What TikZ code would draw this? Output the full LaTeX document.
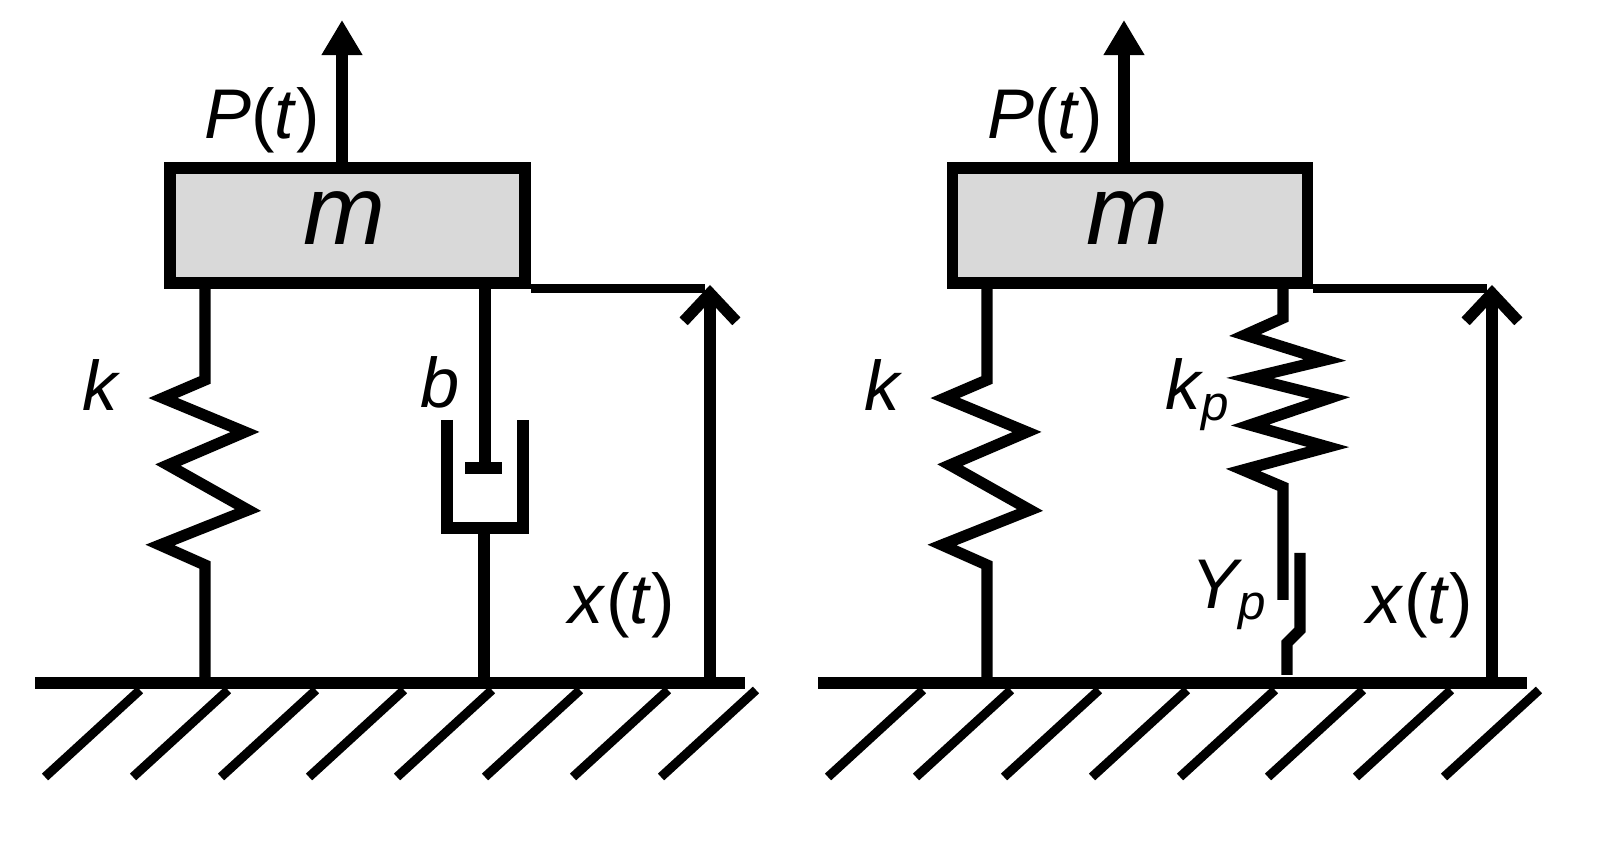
\documentclass[tikz,border=0pt]{standalone}
\usepackage{fontspec}
\setmainfont{Liberation Sans}
\usetikzlibrary{arrows.meta}
\definecolor{massgray}{RGB}{217,217,217}
\newcommand{\fl}[1]{#1\textup{(}t\textup{)}}
\tikzset{
    % Mass block style
    mass/.style={draw=black, line width=3.2pt, fill=massgray, inner sep=0pt,
        minimum width=3.55cm, minimum height=1.15cm},
    % Element wires
    wire/.style={line width=3.2pt, line join=miter},
    % Ground hatching
    hatch/.style={line width=2.6pt},
    % Applied load arrow
    loadarrow/.style={line width=3.2pt, -{Triangle[length=10pt,width=11pt]}},
    % Displacement arrow
    disparrow/.style={line width=3.2pt, -{Straight Barb[length=8pt,width=15pt,line width=3.2pt]}},
    % Label style
    lbl/.style={font=\fontsize{20}{24}\selectfont\itshape, inner sep=0pt}
}
\begin{document}
\begin{tikzpicture}[x=0.01cm, y=-0.01cm]
\useasboundingbox (0,0) rectangle (1617,843);

% ---- left system: spring and dashpot ----
\node[mass] (massL) at (347.5,225.5) {};
\node[lbl, font=\fontsize{28}{32}\selectfont\itshape] (mL) at (345,218) {m};
\coordinate (loadL) at (342,20);
\draw[loadarrow] (massL.north -| loadL) -- (loadL);
\node[lbl] (PL) at (262,120) {\fl{P}};

\draw[wire] (205,283) -- (205,380) -- (163,398) -- (245,432) -- (168,465) -- (248,510) -- (160,545) -- (205,565) -- (205,683);
\node[lbl] (kL) at (100,385) {k};

\draw[wire] (485,283) -- (485,468);
\draw[wire] (465,468) -- (502,468);
\draw[wire] (447,420) -- (447,528) -- (523,528) -- (523,420);
\draw[wire] (484,528) -- (484,683);
\node[lbl] (bL) at (440,382) {b};

\coordinate (xtopL) at (710,285);
\draw[line width=2.4pt] (massL.south east) -- (massL.south east -| 705,0);
\draw[disparrow] (710,683) -- (xtopL);
\node[lbl] (xL) at (622,605) {\fl{x}};

\draw[wire] (35,683) -- (745,683);
\foreach \i in {0,...,7}
    \draw[hatch] (45+88*\i,777) -- (140+88*\i,690);

% ---- right system: spring and elasto-plastic element ----
\node[mass] (massR) at (1130,225.5) {};
\node[lbl, font=\fontsize{28}{32}\selectfont\itshape] (mR) at (1128,218) {m};
\coordinate (loadR) at (1124,20);
\draw[loadarrow] (massR.north -| loadR) -- (loadR);
\node[lbl] (PR) at (1045,120) {\fl{P}};

\draw[wire] (987,283) -- (987,380) -- (945,398) -- (1027,432) -- (950,465) -- (1030,510) -- (942,545) -- (987,565) -- (987,683);
\node[lbl] (kR) at (882,385) {k};

\draw[wire] (1283,283) -- (1283,318) -- (1245,335) -- (1325,360) -- (1250,378) -- (1330,398) -- (1250,425) -- (1328,447) -- (1243,470) -- (1283,487) -- (1283,600);
\draw[wire] (1300,553) -- (1300,630) -- (1287,643) -- (1287,675);
\node[lbl] (kpR) at (1198,395) {k\textsubscript{p}};
\node[lbl] (YpR) at (1230,595) {Y\textsubscript{p}};

\coordinate (xtopR) at (1492,285);
\draw[line width=2.4pt] (massR.south east) -- (massR.south east -| 1487,0);
\draw[disparrow] (1492,683) -- (xtopR);
\node[lbl] (xR) at (1420,605) {\fl{x}};

\draw[wire] (818,683) -- (1527,683);
\foreach \i in {0,...,7}
    \draw[hatch] (828+88*\i,777) -- (923+88*\i,690);
\end{tikzpicture}
\end{document}
